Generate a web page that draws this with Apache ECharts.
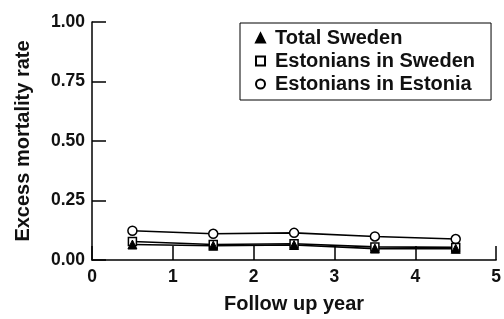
<!DOCTYPE html>
<html>
<head>
<meta charset="utf-8">
<script src="https://cdn.jsdelivr.net/npm/echarts@6/dist/echarts.min.js"></script>
<style>
  html, body { margin: 0; padding: 0; background: #fff; }
  #main { width: 504px; height: 319px; }
</style>
</head>
<body>
<div id="main"></div>
<script>
// follow up year midpoints
var years = [0.5, 1.5, 2.5, 3.5, 4.5]
var totalSweden = [0.065, 0.060, 0.063, 0.048, 0.047]
var estoniansInSweden = [0.078, 0.065, 0.068, 0.055, 0.053]
var estoniansInEstonia = [0.123, 0.110, 0.114, 0.099, 0.088]
var yTicks = [0, 0.25, 0.5, 0.75, 1]

function pairs(ys) {
  return years.map(function (x, i) { return [x, ys[i]] })
}

var font = 'Liberation Sans'
var ink = '#111'

var option = {
  animation: false,
  textStyle: { fontFamily: font, fontWeight: 'bold' },
  grid: { left: 92, right: 4, top: 22, bottom: 54 },
  legend: {
    orient: 'vertical',
    left: 240,
    top: 23,
    padding: [4, 16, 5, 15],
    borderColor: '#000',
    borderWidth: 1,
    itemGap: 1,
    itemWidth: 9,
    itemHeight: 9,
    textStyle: { fontFamily: font, fontWeight: 'bold', fontSize: 20, color: ink, lineHeight: 22, padding: [0, 0, 0, 5] },
    data: [
      { name: 'Total Sweden', icon: 'triangle' },
      { name: 'Estonians in Sweden', icon: 'rect' },
      { name: 'Estonians in Estonia', icon: 'circle' }
    ]
  },
  xAxis: {
    type: 'value',
    min: 0,
    max: 5,
    interval: 1,
    name: 'Follow up year',
    nameLocation: 'middle',
    nameGap: 34,
    nameTextStyle: { fontFamily: font, fontWeight: 'bold', fontSize: 20, color: ink },
    axisLine: { lineStyle: { color: '#000', width: 1.5 } },
    axisTick: { inside: true, length: 14, lineStyle: { color: '#000', width: 1.5 } },
    axisLabel: { fontFamily: font, fontWeight: 'bold', fontSize: 17.5, color: ink, margin: 8, showMaxLabel: true },
    splitLine: { show: false }
  },
  yAxis: {
    type: 'value',
    min: yTicks[0],
    max: yTicks[yTicks.length - 1],
    interval: 0.25,
    name: 'Excess mortality rate',
    nameLocation: 'middle',
    nameGap: 59,
    nameTextStyle: { fontFamily: font, fontWeight: 'bold', fontSize: 20, color: ink },
    axisLine: { show: true, lineStyle: { color: '#000', width: 1.5 } },
    axisTick: { show: true, inside: true, length: 14, lineStyle: { color: '#000', width: 1.5 } },
    axisLabel: {
      fontFamily: font, fontWeight: 'bold', fontSize: 17.5, color: ink, margin: 7,
      formatter: function (v) { return v.toFixed(2) }
    },
    splitLine: { show: false }
  },
  series: [
    {
      name: 'Estonians in Estonia',
      type: 'line',
      data: pairs(estoniansInEstonia),
      symbol: 'circle',
      symbolSize: 9,
      lineStyle: { color: '#000', width: 1.6 },
      itemStyle: { color: '#fff', borderColor: '#000', borderWidth: 1.5 }
    },
    {
      name: 'Estonians in Sweden',
      type: 'line',
      data: pairs(estoniansInSweden),
      symbol: 'rect',
      symbolSize: 8,
      lineStyle: { color: '#000', width: 1.6 },
      itemStyle: { color: '#fff', borderColor: '#000', borderWidth: 1.5 }
    },
    {
      name: 'Total Sweden',
      type: 'line',
      data: pairs(totalSweden),
      symbol: 'triangle',
      symbolSize: 9,
      lineStyle: { color: '#000', width: 1.6 },
      itemStyle: { color: '#000', borderColor: '#000', borderWidth: 1 }
    }
  ]
}

var myChart = echarts.init(document.getElementById('main'))
myChart.setOption(option)
</script>
</body>
</html>
